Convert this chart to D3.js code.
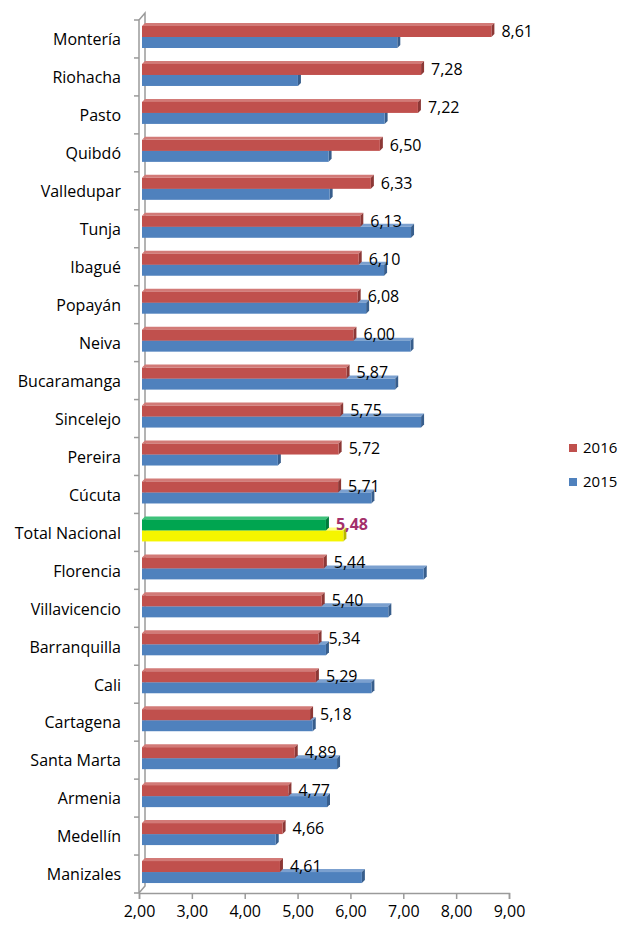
<!DOCTYPE html>
<html>
<head>
<meta charset="utf-8">
<script src="https://cdnjs.cloudflare.com/ajax/libs/d3/7.8.5/d3.min.js"></script>
<style>
  body { margin: 0; background: #fff; }
  text { font-family: "Open Sans", "Lato", sans-serif; fill: #000; }
</style>
</head>
<body>
<svg width="618" height="928"></svg>
<script>
// data
var cities = ['Montería', 'Riohacha', 'Pasto', 'Quibdó', 'Valledupar', 'Tunja', 'Ibagué',
    'Popayán', 'Neiva', 'Bucaramanga', 'Sincelejo', 'Pereira', 'Cúcuta', 'Total Nacional',
    'Florencia', 'Villavicencio', 'Barranquilla', 'Cali', 'Cartagena', 'Santa Marta',
    'Armenia', 'Medellín', 'Manizales'];
var v2016 = [8.61, 7.28, 7.22, 6.50, 6.33, 6.13, 6.10, 6.08, 6.00, 5.87, 5.75, 5.72, 5.71,
    5.48, 5.44, 5.40, 5.34, 5.29, 5.18, 4.89, 4.77, 4.66, 4.61];
var v2015 = [6.83, 4.95, 6.59, 5.53, 5.55, 7.09, 6.58, 6.24, 7.08, 6.79, 7.28, 4.57, 6.34,
    5.81, 7.33, 6.66, 5.48, 6.34, 5.23, 5.69, 5.50, 4.53, 6.16];
var xTicks = [2, 3, 4, 5, 6, 7, 8, 9];
var seriesNames = ['2016', '2015'];
var highlight = 'Total Nacional';

var svg = d3.select('svg');

var x = d3.scaleLinear().domain([2, 9]).range([139, 509]);
var y = d3.scaleBand().domain(cities).range([20, 893]);

var dx = 6, dy = 7;   // depth of the back wall
var bd = 3;           // depth of each bar

var colors = {
    '2016': {front: '#C0504D', top: '#D27A77', side: '#8C3836'},
    '2015': {front: '#4F81BD', top: '#7BA0CF', side: '#385E8C'},
    'hl2016': {front: '#00A550', top: '#3DC27A', side: '#007A3A'},
    'hl2015': {front: '#F5F500', top: '#FFFF80', side: '#B8B800'}
};

var fmt = function(v) { return v.toFixed(2).replace('.', ','); };

// back wall and axes
var axisColor = '#9A9A9A';
var walls = svg.append('g').attr('class', 'walls');
walls.append('path')
    .attr('d', 'M' + x(2) + ',' + y.range()[1] + ' L' + x(2) + ',' + y.range()[0] +
        ' L' + (x(2) + dx) + ',' + (y.range()[0] - dy) +
        ' L' + (x(2) + dx) + ',' + (y.range()[1] - dy) + ' L' + x(2) + ',' + y.range()[1])
    .attr('fill', 'none')
    .attr('stroke', axisColor)
    .attr('stroke-width', 1.5);

// category ticks
walls.selectAll('.ytick')
    .data(d3.range(cities.length + 1))
    .enter()
    .append('line')
    .attr('x1', x(2) - 5)
    .attr('x2', x(2))
    .attr('y1', function(i) { return y.range()[0] + i * y.step(); })
    .attr('y2', function(i) { return y.range()[0] + i * y.step(); })
    .attr('stroke', axisColor)
    .attr('stroke-width', 1.5);

// x axis
var xAxis = svg.append('g')
    .attr('class', 'axis-x')
    .attr('transform', 'translate(0,' + y.range()[1] + ')')
    .call(d3.axisBottom(x).tickValues(xTicks).tickSize(6).tickPadding(7).tickFormat(fmt));
xAxis.select('.domain').attr('stroke', axisColor).attr('stroke-width', 1.5);
xAxis.selectAll('.tick line').attr('stroke', axisColor).attr('stroke-width', 1.5);
xAxis.selectAll('.tick text').style('font-size', '16px').attr('fill', '#000');

// category labels
svg.selectAll('.cat')
    .data(cities)
    .enter()
    .append('text')
    .attr('class', 'cat')
    .attr('x', 121)
    .attr('y', function(d) { return y(d) + y.bandwidth() / 2 + 2; })
    .attr('text-anchor', 'end')
    .attr('dominant-baseline', 'middle')
    .style('font-size', '16px')
    .text(function(d) { return d; });

// 3D bar helper
function bar3d(g, x0, x1, top, h, c) {
    g.append('path')
        .attr('d', 'M' + x0 + ',' + top + ' L' + (x0 + bd) + ',' + (top - bd) +
            ' L' + (x1 + bd) + ',' + (top - bd) + ' L' + x1 + ',' + top + 'Z')
        .attr('fill', c.top);
    g.append('path')
        .attr('d', 'M' + x1 + ',' + top + ' L' + (x1 + bd) + ',' + (top - bd) +
            ' L' + (x1 + bd) + ',' + (top + h - bd) + ' L' + x1 + ',' + (top + h) + 'Z')
        .attr('fill', c.side);
    g.append('rect')
        .attr('x', x0)
        .attr('y', top)
        .attr('width', x1 - x0)
        .attr('height', h)
        .attr('fill', c.front);
}

var bars = svg.append('g').attr('class', 'bars');
var barH = 11;
cities.forEach(function(c, i) {
    var g = bars.append('g');
    var isHl = c === highlight;
    var top16 = y(c) + 6;
    var top15 = top16 + barH;
    var off = 3;
    // 2015 drawn first so the 2016 side face stays visible
    bar3d(g, x(2) + off, x(v2015[i]) + off, top15, barH, isHl ? colors.hl2015 : colors['2015']);
    bar3d(g, x(2) + off, x(v2016[i]) + off, top16, barH, isHl ? colors.hl2016 : colors['2016']);

    g.append('text')
        .attr('x', x(v2016[i]) + 13)
        .attr('y', top16 + barH / 2 + 1)
        .attr('dominant-baseline', 'middle')
        .style('font-size', '16px')
        .style('font-weight', isHl ? 'bold' : 'normal')
        .style('fill', isHl ? '#A3306B' : '#000')
        .text(fmt(v2016[i]));
});

// legend
var legend = svg.append('g')
    .attr('class', 'legend')
    .attr('transform', 'translate(569,444)');
var legendItems = legend.selectAll('.item')
    .data(seriesNames)
    .enter()
    .append('g')
    .attr('class', 'item')
    .attr('transform', function(d, i) { return 'translate(0,' + i * 34 + ')'; });
legendItems.append('rect')
    .attr('width', 8)
    .attr('height', 8)
    .attr('fill', function(d) { return colors[d].front; });
legendItems.append('text')
    .attr('x', 14)
    .attr('y', 5)
    .attr('dominant-baseline', 'middle')
    .style('font-size', '15px')
    .text(function(d) { return d; });
</script>
</body>
</html>
